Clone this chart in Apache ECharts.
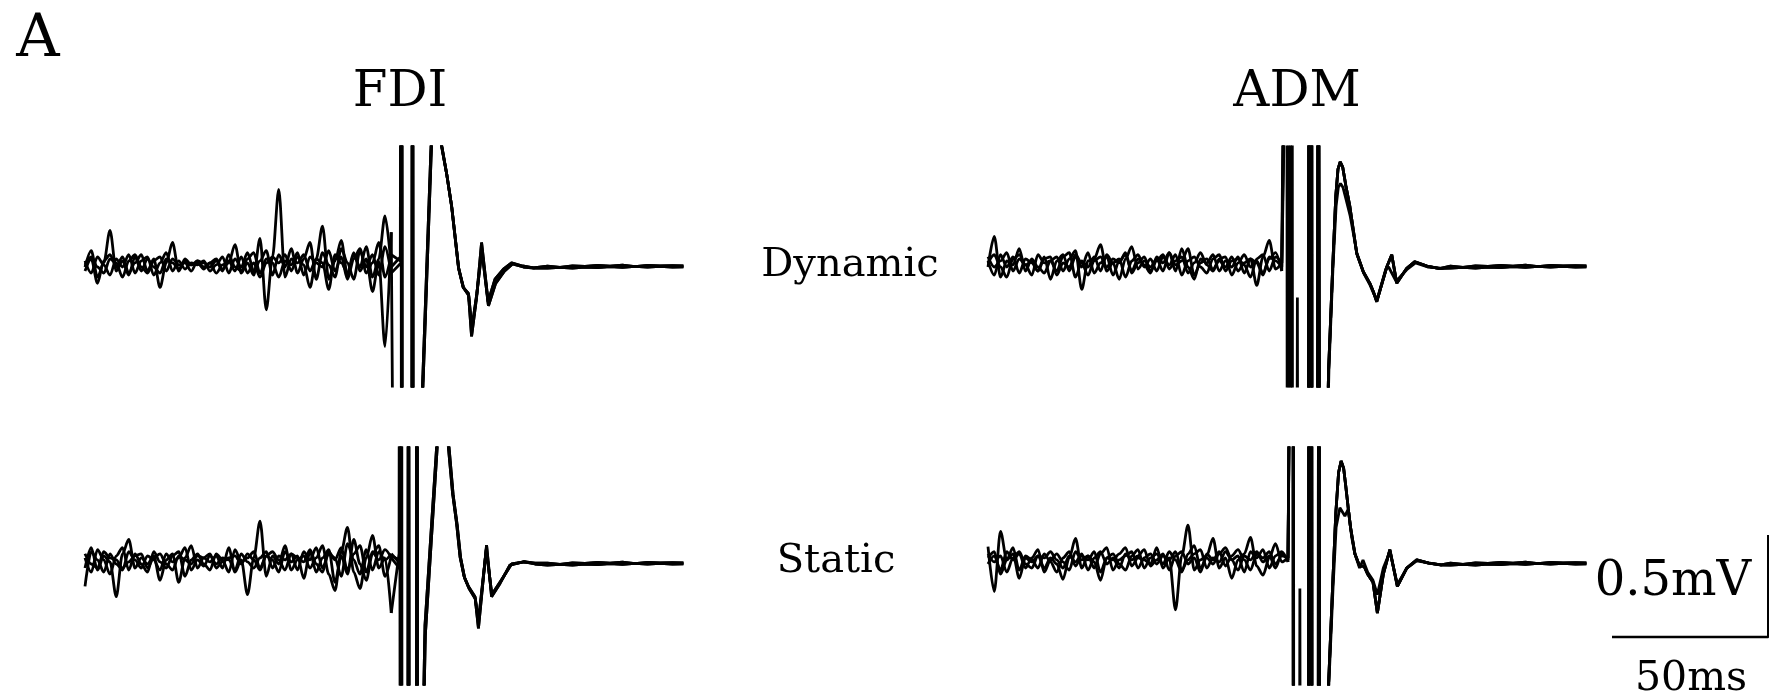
<!DOCTYPE html>
<html><head><meta charset="utf-8">
<script src="https://cdn.jsdelivr.net/npm/echarts@6/dist/echarts.min.js"></script>
<style>html,body{margin:0;padding:0;background:#fff}#c{width:1769px;height:698px}</style>
</head><body><div id="c"></div>
<script>
// ---------------- DATA (ms, mV) ----------------
const NOISE_DT = 2; // ms between noise samples
const TIME_RANGE = [0, 192]; // ms shown in each panel
const SCALE_BAR = { ms: 50, mV: 0.5, msLabel: '50ms', mVLabel: '0.5mV' };
const muscleLabels = ['FDI', 'ADM'];
const conditionLabels = ['Dynamic', 'Static'];
const panelLetter = 'A';

// FDI dynamic – pre-stimulus background EMG (4 sweeps)
const fdiDynNoise = [
 [0.00,0.08,-0.05,0.02,0.18,-0.02,0.03,-0.04,0.05,-0.02,
  0.04,0.00,-0.03,0.04,0.02,-0.01,0.03,0.01,0.02,-0.01,
  0.02,-0.03,0.01,0.03,-0.02,0.05,-0.03,0.02,-0.05,0.02,
  0.05,0.38,-0.05,0.04,0.02,0.06,-0.02,0.04,0.20,-0.06,
  0.03,0.13,-0.04,0.06,0.00,0.10,-0.05,0.04,0.25,0.00],
 [-0.02,0.04,-0.08,0.03,0.06,0.00,0.05,-0.03,0.02,0.06,
  -0.02,0.04,-0.10,0.02,0.12,-0.02,0.04,0.01,0.03,0.00,
  0.02,0.04,-0.01,0.02,0.11,-0.03,0.02,-0.04,0.14,-0.21,
  0.05,0.02,0.06,-0.02,0.05,0.01,-0.10,0.04,0.02,-0.11,
  0.06,0.02,-0.03,0.07,-0.02,0.04,-0.12,0.03,-0.39,0.17],
 [0.03,-0.03,0.05,0.01,-0.04,0.04,0.00,0.06,-0.03,0.03,
  0.05,-0.04,0.02,0.07,-0.02,0.03,-0.01,0.02,0.01,0.03,
  -0.02,0.01,0.05,-0.03,0.04,0.00,0.07,-0.02,0.03,0.08,
  -0.04,0.06,0.00,0.09,-0.03,0.04,0.12,-0.06,0.07,0.01,
  -0.05,0.09,0.02,-0.06,0.08,0.00,0.06,-0.04,0.10,-0.03],
 [0.01,0.05,0.00,-0.03,0.04,0.02,-0.05,0.03,0.06,0.00,
  -0.03,0.03,0.05,-0.02,0.04,0.01,0.02,-0.02,0.03,0.02,
  0.00,0.03,-0.02,0.06,0.00,-0.02,0.04,0.07,-0.03,0.04,
  0.02,-0.05,0.03,0.01,0.07,-0.04,0.05,0.02,0.00,0.08,
  -0.02,0.05,-0.06,0.04,0.09,-0.03,0.02,0.12,-0.05,0.06]
];
// FDI dynamic – stimulus artefact per sweep [ms, mV]
const fdiDynArtefact = [
 [[101.0,0.05],[101.2,3],[101.4,-3],[104.6,-3],[104.8,3],[105.0,-3]],
 [[99.5,-3],[101.3,-3],[101.45,3],[101.6,-3],[104.5,-3],[104.7,3],[104.9,-3]],
 [[101.1,0.02],[101.3,3],[101.5,-3],[104.7,-3],[104.9,3],[105.1,-3]],
 [[100.9,0.03],[101.1,3],[101.3,-3],[104.6,-3],[104.8,3],[105.0,-3]]
];
// FDI dynamic – MEP waveforms [ms, mV]
const fdiDynMepA = [[107.2,-0.93],[111.3,0.84],[112.6,1.25],[114.0,0.6],[115.7,0.46],[117.3,0.3],[119.5,0.0],[121.0,-0.1],[122.7,-0.13],[123.7,-0.34],[125.3,-0.15],[126.9,0.12],[129.0,-0.17],[131.2,-0.06],[133.9,-0.01],[136.5,0.02],[140,0.005],[143.5,-0.004]];
const fdiDynMepB = [[107.3,-0.95],[111.4,0.82],[112.7,1.2],[114.1,0.6],[115.8,0.45],[117.4,0.29],[119.6,-0.01],[121.1,-0.1],[122.8,-0.14],[123.8,-0.3],[125.4,-0.13],[127.0,0.08],[129.1,-0.19],[131.4,-0.08],[134.2,-0.02],[136.8,0.015],[140.3,0.0],[143.8,-0.006]];

// FDI static
const fdiStaNoise = [
 [-0.02,0.08,-0.03,0.04,0.01,-0.16,0.05,0.12,-0.02,0.03,
  0.00,0.04,-0.08,0.02,0.05,-0.09,0.03,0.09,-0.02,0.03,
  0.01,0.04,-0.02,0.08,-0.04,0.02,-0.15,0.03,0.21,-0.06,
  0.04,0.00,0.09,-0.03,0.02,0.04,-0.02,0.03,0.09,-0.05,
  -0.13,0.06,0.18,-0.04,-0.12,0.03,0.14,-0.02,0.03,-0.24],
 [-0.11,0.06,0.02,-0.04,0.05,0.00,-0.03,0.06,0.02,-0.02,
  0.04,0.02,-0.03,0.05,0.01,0.03,0.08,-0.03,0.02,-0.01,
  0.04,0.00,0.03,0.02,-0.03,0.05,0.01,-0.02,0.03,0.06,
  -0.02,0.04,0.02,0.05,-0.03,0.06,0.02,0.08,-0.02,0.05,
  0.03,-0.06,0.10,0.02,-0.05,0.07,-0.03,0.06,0.02,0.05],
 [0.03,-0.04,0.07,0.02,-0.05,0.04,0.08,-0.03,0.05,0.00,
  -0.04,0.06,0.01,-0.02,0.04,0.06,-0.06,0.02,0.05,0.00,
  -0.03,0.05,0.02,-0.04,0.07,0.01,0.03,0.06,-0.02,0.04,
  0.02,-0.04,0.06,0.01,0.04,-0.07,0.06,-0.04,0.03,0.07,
  -0.09,0.04,-0.05,0.12,0.00,-0.08,0.05,0.09,-0.06,0.04],
 [0.05,0.00,-0.02,0.06,0.03,0.02,-0.02,0.01,0.04,0.05,
  -0.02,0.03,0.05,0.00,-0.03,0.04,0.02,0.00,0.04,0.03,
  0.05,-0.02,0.01,0.03,0.04,0.00,0.05,0.02,-0.03,0.04,
  0.06,0.02,-0.03,0.05,0.03,0.01,0.07,0.00,-0.04,0.06,
  0.02,0.08,-0.03,0.05,0.09,-0.04,0.06,0.02,0.07,0.03]
];
const fdiStaArtefact = [
 [[100.5,0.05],[100.7,3],[100.9,-3],[103.3,-3],[103.5,3],[103.7,-3],[106.0,-3],[106.2,3],[106.4,-3]],
 [[101.0,0.0],[101.2,3],[101.4,-3],[103.3,-3],[103.5,3],[103.7,-3],[106.0,-3],[106.1,3],[106.3,-3]],
 [[100.6,0.02],[100.8,3],[101.0,-3],[103.4,-3],[103.6,3],[103.8,-3],[106.1,-3],[106.3,3],[106.5,-3]],
 [[101.1,-0.03],[101.3,3],[101.5,-3],[103.3,-3],[103.5,3],[103.7,-3],[106.0,-3],[106.2,3],[106.4,-3]]
];
const fdiStaMepA = [[108.0,-0.95],[108.8,-0.3],[112.5,0.57],[114.3,0.95],[116.3,0.57],[117.6,0.35],[118.9,0.2],[120.0,0.036],[121.3,-0.06],[122.7,-0.11],[124.8,-0.16],[125.9,-0.315],[128.5,0.093],[130.1,-0.16],[132.8,-0.095],[136.0,-0.005],[140.3,0.011],[144,0.004]];
const fdiStaMepB = [[108.2,-0.9],[108.9,-0.35],[112.7,0.57],[114.5,0.95],[116.5,0.57],[117.8,0.34],[119.1,0.19],[120.2,0.03],[121.5,-0.07],[122.9,-0.12],[124.9,-0.17],[125.9,-0.28],[128.4,0.07],[130.2,-0.15],[133.2,-0.08],[136.5,0.0],[140.6,0.01],[144,0.0]];

// ADM dynamic
const admDynNoise = [
 [0.00,0.15,-0.05,0.03,0.01,0.09,-0.02,0.04,0.00,-0.03,
  0.03,0.05,-0.02,0.04,0.08,-0.11,0.03,0.04,0.11,-0.02,
  0.02,-0.06,0.04,0.10,-0.01,0.03,0.00,0.04,-0.02,0.07,
  0.01,0.03,0.09,-0.04,0.02,0.04,-0.01,0.03,0.00,0.05,
  -0.02,0.02,0.04,-0.09,0.05,0.13,-0.01,0.02],
 [0.03,-0.04,0.06,0.00,0.05,-0.03,0.04,0.02,-0.02,0.05,
  -0.06,0.03,0.06,-0.02,0.05,0.00,0.07,-0.03,0.02,0.05,
  -0.04,0.03,0.06,-0.02,0.04,0.01,-0.03,0.05,0.02,0.07,
  -0.02,0.09,0.00,-0.06,0.04,0.02,0.06,-0.02,0.03,0.00,
  0.05,-0.03,0.04,0.02,-0.04,0.05,0.03,0.00],
 [0.05,0.00,0.03,0.07,-0.02,0.04,0.01,-0.04,0.06,0.02,
  0.03,-0.02,0.05,0.07,-0.05,0.03,0.00,0.05,-0.02,0.06,
  0.02,0.04,-0.05,0.03,0.06,0.00,0.04,-0.02,0.05,0.01,
  0.06,-0.04,0.03,0.05,0.00,-0.03,0.04,0.06,-0.02,0.03,
  0.04,0.01,-0.05,0.04,0.06,-0.02,0.05,0.02],
 [0.02,0.06,0.00,-0.05,0.04,0.06,0.01,0.03,-0.02,0.04,
  0.05,-0.04,0.02,0.00,0.06,0.02,-0.04,0.03,0.05,0.00,
  0.04,0.02,0.07,-0.03,0.02,0.05,-0.02,0.03,0.06,-0.01,
  0.03,0.05,-0.03,0.02,0.07,0.01,-0.02,0.04,0.05,-0.04,
  0.02,0.06,0.00,0.03,-0.03,0.04,0.07,-0.02]
];
const admDynArtefact = [
 [[95.6,3],[95.8,-3],[98.7,-3],[99.0,-0.15],[99.3,-3],[102.5,-3],[102.7,3],[103.5,3],[103.7,-3],[105.4,-3],[105.6,3],[106.0,3],[106.2,-3]],
 [[96.2,3],[96.4,-3],[102.6,-3],[102.8,3],[103.4,3],[103.6,-3],[105.5,-3],[105.7,3],[105.9,3],[106.1,-3]],
 [[96.8,3],[97.0,-3],[102.5,-3],[102.7,3],[103.5,3],[103.7,-3],[105.4,-3],[105.6,3],[106.0,3],[106.2,-3]],
 [[97.3,3],[97.5,-3],[102.6,-3],[102.8,3],[103.6,3],[103.8,-3],[105.5,-3],[105.7,3],[106.1,3],[106.3,-3]]
];
const admDynMepA = [[108.3,-1.0],[109.0,-0.5],[110.3,0.0],[111.3,0.35],[112.0,0.48],[112.7,0.515],[113.5,0.49],[114.5,0.40],[115.8,0.296],[117.0,0.17],[118.0,0.067],[120.1,-0.023],[122.2,-0.08],[123.3,-0.12],[124.4,-0.17],[127.6,0.0],[129.2,0.06],[130.8,-0.08],[134.0,-0.006],[136.6,0.026],[140.5,0.004],[144.6,-0.008]];
const admDynMepB = [[108.4,-1.0],[109.1,-0.5],[110.4,0.0],[111.4,0.3],[112.1,0.39],[112.8,0.41],[113.6,0.39],[114.6,0.33],[115.9,0.25],[117.1,0.15],[118.1,0.06],[120.2,-0.03],[122.3,-0.09],[123.4,-0.13],[124.5,-0.16],[127.3,-0.01],[128.2,0.0],[130.6,-0.07],[134.2,-0.01],[136.8,0.02],[140.7,0.0],[144.8,-0.006]];

// ADM static
const admStaNoise = [
 [0.085,-0.135,0.16,0.02,0.05,-0.07,0.03,0.01,0.04,-0.02,
  0.03,0.00,-0.075,0.03,0.125,-0.02,0.04,0.01,-0.08,0.03,
  0.02,0.05,0.08,-0.01,0.03,0.02,0.00,0.08,-0.02,0.03,
  -0.225,0.04,0.19,-0.03,0.02,0.04,0.125,-0.02,0.03,-0.07,
  0.02,0.05,0.13,-0.01,-0.055,0.03,0.10,0.01,0.03],
 [0.00,0.04,-0.03,0.06,0.02,0.05,-0.02,0.03,0.07,-0.04,
  0.02,0.05,0.01,-0.03,0.06,0.02,0.04,-0.02,0.05,0.08,
  -0.03,0.02,0.04,0.06,-0.02,0.03,0.05,0.00,0.04,0.02,
  0.06,-0.03,0.02,0.05,0.07,-0.02,0.03,0.01,0.06,0.02,
  -0.03,0.04,0.02,0.06,0.01,0.04,-0.02,0.05,0.02],
 [0.03,0.06,-0.05,0.02,0.08,-0.03,0.04,0.02,-0.02,0.05,
  0.01,-0.04,0.03,0.06,-0.01,0.04,0.02,0.06,-0.04,0.03,
  0.05,0.00,-0.03,0.04,0.07,-0.02,0.03,0.05,0.00,0.06,
  0.02,-0.04,0.05,0.09,-0.02,0.03,0.00,0.05,0.08,0.02,
  0.04,-0.04,0.06,0.03,0.07,-0.02,0.04,0.06,0.01],
 [0.05,0.01,0.04,-0.04,0.03,0.06,0.00,-0.02,0.04,0.03,
  0.06,0.02,-0.02,0.04,0.01,0.05,-0.03,0.03,0.06,0.00,
  0.03,-0.02,0.05,0.02,0.04,0.07,-0.01,0.02,0.05,-0.03,
  0.04,0.06,0.00,0.03,-0.04,0.05,0.02,0.06,-0.01,0.04,
  0.07,0.02,-0.03,0.05,0.03,0.06,0.00,0.04,0.03]
];
const admStaArtefact = [
 [[97.5,3],[97.7,-3],[99.5,-3],[99.8,-0.12],[100.1,-3],[102.5,-3],[102.7,3],[103.5,3],[103.7,-3],[105.6,-3],[105.8,3],[106.0,3],[106.2,-3]],
 [[97.6,3],[97.8,-3],[102.6,-3],[102.8,3],[103.4,3],[103.6,-3],[105.7,-3],[105.9,3],[106.0,3],[106.2,-3]],
 [[97.7,3],[97.9,-3],[102.5,-3],[102.7,3],[103.6,3],[103.8,-3],[105.6,-3],[105.8,3],[106.1,3],[106.3,-3]],
 [[97.6,3],[97.8,-3],[102.6,-3],[102.8,3],[103.5,3],[103.7,-3],[105.7,-3],[105.9,3],[106.0,3],[106.2,-3]]
];
const admStaMepA = [[108.5,-1.0],[109.0,-0.58],[110.3,-0.1],[111.3,0.25],[112.2,0.45],[113.0,0.505],[113.8,0.47],[114.5,0.38],[115.3,0.27],[116.0,0.18],[117.4,0.05],[118.9,-0.01],[120.3,-0.01],[121.5,-0.05],[123.2,-0.09],[124.6,-0.24],[126.5,-0.05],[128.6,0.07],[131.0,-0.11],[134.0,-0.02],[137.2,0.02],[141,0.004],[145,-0.004]];
const admStaMepB = [[108.6,-1.0],[109.1,-0.58],[110.4,-0.12],[111.4,0.18],[112.6,0.276],[114.2,0.235],[115.3,0.27],[116.4,0.13],[117.4,0.05],[118.9,-0.02],[120.0,0.02],[121.5,-0.04],[123.2,-0.08],[124.6,-0.15],[126.5,-0.02],[128.6,0.06],[131.0,-0.1],[134.0,-0.02],[137.2,0.015],[141,0.005],[145,-0.006]];

// Late baseline (two slightly different sweeps)
const tailA = [[148,0.004],[152,-0.002],[156,0.006],[160,0.003],[164,0.008],[168,0.004],[172,0.009],[176,0.002],[180,0.008],[184,0.005],[188,0.007],[191.5,0.006]];
const tailB = [[148,-0.006],[152,-0.002],[156,-0.005],[160,0.0],[164,-0.003],[168,0.002],[172,-0.002],[176,0.003],[180,-0.001],[184,0.003],[188,0.0],[191.5,0.001]];

// ---------------- LAYOUT ----------------
const PX_PER_MV = 204, PX_PER_MS = 3.125;
const panels = [
  { noise: fdiDynNoise, art: fdiDynArtefact, mep: [fdiDynMepA, fdiDynMepB, fdiDynMepA, fdiDynMepB], left: 85,  top: 147, bottom: 386, base: 267 },
  { noise: admDynNoise, art: admDynArtefact, mep: [admDynMepA, admDynMepA, admDynMepA, admDynMepB], left: 988, top: 147, bottom: 386, base: 267 },
  { noise: fdiStaNoise, art: fdiStaArtefact, mep: [fdiStaMepA, fdiStaMepB, fdiStaMepA, fdiStaMepB], left: 85,  top: 448, bottom: 684, base: 564 },
  { noise: admStaNoise, art: admStaArtefact, mep: [admStaMepA, admStaMepA, admStaMepA, admStaMepB], left: 988, top: 448, bottom: 684, base: 564 }
];

const grids = [], xAxes = [], yAxes = [], series = [];
const LINE = { color: '#000', width: 2.8 };
panels.forEach((p, gi) => {
  grids.push({ left: p.left, top: p.top, width: (TIME_RANGE[1]-TIME_RANGE[0]) * PX_PER_MS, height: p.bottom - p.top });
  xAxes.push({ gridIndex: gi, type: 'value', min: TIME_RANGE[0], max: TIME_RANGE[1], show: false });
  yAxes.push({ gridIndex: gi, type: 'value', min: -(p.bottom - p.base) / PX_PER_MV, max: (p.base - p.top) / PX_PER_MV, show: false });
  p.noise.forEach((sweep, k) => {
    const pre = sweep.map((v, i) => [i * NOISE_DT, v]);
    series.push({ type: 'line', xAxisIndex: gi, yAxisIndex: gi, data: pre, showSymbol: false, smooth: 0.3, smoothMonotone: 'x', lineStyle: LINE, silent: true, animation: false });
    const post = [pre[pre.length - 1]].concat(p.art[k], p.mep[k], k % 2 ? tailB : tailA);
    series.push({ type: 'line', xAxisIndex: gi, yAxisIndex: gi, data: post, showSymbol: false, lineStyle: LINE, silent: true, animation: false });
  });
});
// scale bar grid (same px/unit as panels)
const sg = grids.length;
grids.push({ left: 1612, top: 535, width: SCALE_BAR.ms * PX_PER_MS, height: SCALE_BAR.mV * PX_PER_MV });
xAxes.push({ gridIndex: sg, type: 'value', min: 0, max: SCALE_BAR.ms, show: false });
yAxes.push({ gridIndex: sg, type: 'value', min: 0, max: SCALE_BAR.mV, show: false });
series.push({ type: 'line', xAxisIndex: sg, yAxisIndex: sg, data: [[0,0],[SCALE_BAR.ms,0],[SCALE_BAR.ms,SCALE_BAR.mV]], showSymbol: false, clip: false, lineStyle: { color: '#000', width: 2.5 }, animation: false, silent: true });

const FONT = '"DejaVu Serif", serif';
function txt(text, x, y, size) {
  return { type: 'text', x, y, style: { text, fill: '#000', font: size + 'px ' + FONT, textAlign: 'center', textVerticalAlign: 'middle' } };
}
const chart = echarts.init(document.getElementById('c'), null, { renderer: 'canvas' });
chart.setOption({
  backgroundColor: '#fff',
  animation: false,
  grid: grids, xAxis: xAxes, yAxis: yAxes, series,
  graphic: [
    txt(panelLetter, 38, 40, 60),
    txt(muscleLabels[0], 400, 93, 50),
    txt(muscleLabels[1], 1297, 93, 50),
    txt(conditionLabels[0], 850, 266, 40),
    txt(conditionLabels[1], 836, 562, 40),
    txt(SCALE_BAR.mVLabel, 1673, 583, 48),
    txt(SCALE_BAR.msLabel, 1691, 679, 41)
  ]
});
</script></body></html>
